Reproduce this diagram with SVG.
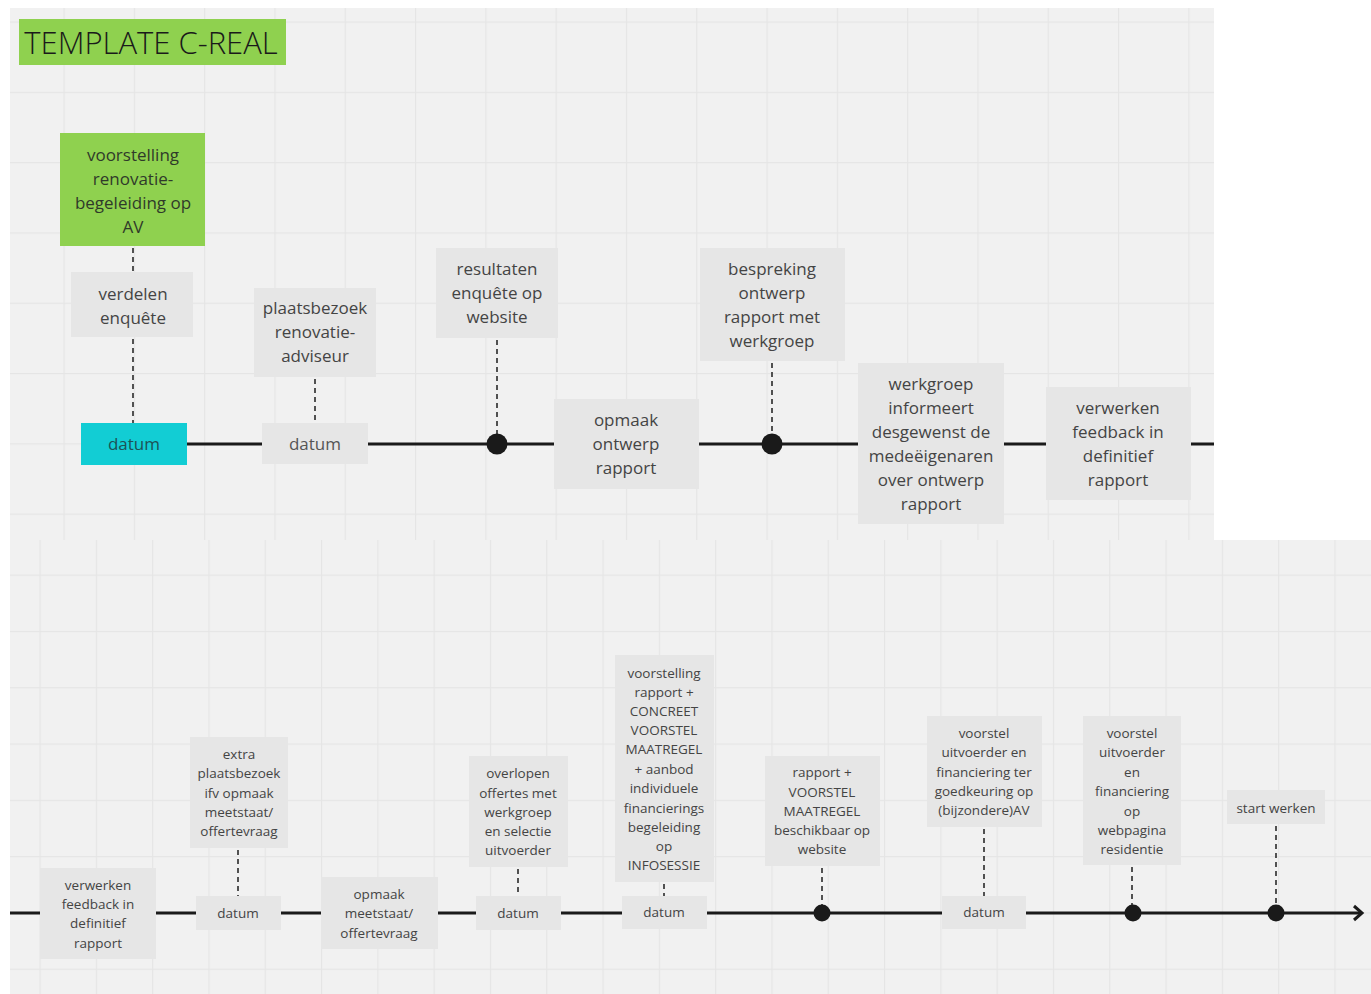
<svg xmlns="http://www.w3.org/2000/svg" width="1371" height="994" viewBox="0 0 1371 994">
<defs>
<pattern id="gTop" patternUnits="userSpaceOnUse" x="63.5" y="21.5" width="70.3" height="70.3">
<rect x="0" y="0" width="1.2" height="70.3" fill="#e5e5e5"/><rect x="0" y="0" width="70.3" height="1.2" fill="#e5e5e5"/>
</pattern>
<pattern id="gBot" patternUnits="userSpaceOnUse" x="39.5" y="743.5" width="56.3" height="56.3">
<rect x="0" y="0" width="1.2" height="56.3" fill="#e5e5e5"/><rect x="0" y="0" width="56.3" height="1.2" fill="#e5e5e5"/>
</pattern>
<marker id="arr" markerUnits="userSpaceOnUse" markerWidth="16" markerHeight="18" refX="13" refY="9" orient="auto">
<path d="M5 2 L13 9 L5 16" fill="none" stroke="#1a1a1a" stroke-width="3"/>
</marker>
</defs>
<style>
text{font-family:"Open Sans","Noto Sans","Liberation Sans",sans-serif;text-anchor:middle;dominant-baseline:central}
.b{fill:#e6e6e6}
.t{font-size:17px;fill:#444}
.s{font-size:13.5px;fill:#444}
.d{fill:none;stroke:#2a2a2a;stroke-width:1.6;stroke-dasharray:5 4}
.tl{fill:none;stroke:#1a1a1a;stroke-width:3}
.dot{fill:#1a1a1a}
</style>
<rect width="1371" height="994" fill="#ffffff"/>
<rect x="10" y="8" width="1204" height="532" fill="#f1f1f1"/>
<rect x="10" y="8" width="1204" height="532" fill="url(#gTop)"/>
<rect x="10" y="540" width="1361" height="454" fill="#f1f1f1"/>
<rect x="10" y="540" width="1361" height="454" fill="url(#gBot)"/>

<g id="connectors">
<line class="tl" x1="81" y1="444" x2="1214" y2="444"/>
<line class="tl" x1="10" y1="913" x2="1362" y2="913" marker-end="url(#arr)"/>
<line class="d" x1="133" y1="248" x2="133" y2="272"/>
<line class="d" x1="133" y1="339" x2="133" y2="423"/>
<line class="d" x1="315" y1="379" x2="315" y2="421"/>
<line class="d" x1="497" y1="340" x2="497" y2="436"/>
<line class="d" x1="772" y1="363" x2="772" y2="436"/>
<line class="d" x1="238" y1="850" x2="238" y2="896"/>
<line class="d" x1="518" y1="869" x2="518" y2="896"/>
<line class="d" x1="664" y1="884" x2="664" y2="896"/>
<line class="d" x1="822" y1="868" x2="822" y2="905"/>
<line class="d" x1="984" y1="829" x2="984" y2="896"/>
<line class="d" x1="1132" y1="867" x2="1132" y2="905"/>
<line class="d" x1="1276" y1="826" x2="1276" y2="905"/>
<circle class="dot" cx="497" cy="444" r="10.5"/>
<circle class="dot" cx="772" cy="444" r="10.5"/>
<circle class="dot" cx="822" cy="913" r="8.5"/>
<circle class="dot" cx="1133" cy="913" r="8.5"/>
<circle class="dot" cx="1276" cy="913" r="8.5"/>
</g>

<g id="title">
<rect x="19" y="19" width="267" height="46" fill="#8fd14f"/>
<text x="151" y="42" style="font-size:31px;fill:#1a1a1a;font-weight:300">TEMPLATE C-REAL</text>
</g>

<g id="n-voorstelling-av">
<rect x="60" y="133" width="145" height="113" fill="#8fd14f"/>
<text class="t" x="133" y="154" style="fill:#2f3a2a">voorstelling</text>
<text class="t" x="133" y="178" style="fill:#2f3a2a">renovatie-</text>
<text class="t" x="133" y="202" style="fill:#2f3a2a">begeleiding op</text>
<text class="t" x="133" y="226" style="fill:#2f3a2a">AV</text>
</g>
<g id="n-verdelen">
<rect class="b" x="71" y="272" width="122" height="65"/>
<text class="t" x="133" y="293">verdelen</text>
<text class="t" x="133" y="317">enquête</text>
</g>
<g id="n-datum1">
<rect x="81" y="423" width="106" height="42" fill="#12cdd4"/>
<text class="t" x="134" y="443.5" style="fill:#1d5256">datum</text>
</g>
<g id="n-plaatsbezoek">
<rect class="b" x="254" y="288" width="122" height="89"/>
<text class="t" x="315" y="307.5">plaatsbezoek</text>
<text class="t" x="315" y="331.5">renovatie-</text>
<text class="t" x="315" y="355.5">adviseur</text>
</g>
<g id="n-datum2">
<rect class="b" x="262" y="423" width="106" height="41"/>
<text class="t" x="315" y="443.5" style="fill:#555">datum</text>
</g>
<g id="n-resultaten">
<rect class="b" x="436" y="248" width="122" height="90"/>
<text class="t" x="497" y="268.5">resultaten</text>
<text class="t" x="497" y="292.5">enquête op</text>
<text class="t" x="497" y="316.5">website</text>
</g>
<g id="n-opmaak-ontwerp">
<rect class="b" x="554" y="399" width="145" height="90"/>
<text class="t" x="626" y="419.5">opmaak</text>
<text class="t" x="626" y="443.5">ontwerp</text>
<text class="t" x="626" y="467.5">rapport</text>
</g>
<g id="n-bespreking">
<rect class="b" x="700" y="248" width="145" height="113"/>
<text class="t" x="772" y="268.5">bespreking</text>
<text class="t" x="772" y="292.5">ontwerp</text>
<text class="t" x="772" y="316.5">rapport met</text>
<text class="t" x="772" y="340.5">werkgroep</text>
</g>
<g id="n-werkgroep-informeert">
<rect class="b" x="858" y="363" width="146" height="161"/>
<text class="t" x="931" y="383.5">werkgroep</text>
<text class="t" x="931" y="407.5">informeert</text>
<text class="t" x="931" y="431.5">desgewenst de</text>
<text class="t" x="931" y="455.5">medeëigenaren</text>
<text class="t" x="931" y="479.5">over ontwerp</text>
<text class="t" x="931" y="503.5">rapport</text>
</g>
<g id="n-verwerken-top">
<rect class="b" x="1046" y="387" width="145" height="113"/>
<text class="t" x="1118" y="407.5">verwerken</text>
<text class="t" x="1118" y="431.5">feedback in</text>
<text class="t" x="1118" y="455.5">definitief</text>
<text class="t" x="1118" y="479.5">rapport</text>
</g>

<g id="n-verwerken-bottom">
<rect class="b" x="40" y="868" width="116" height="91"/>
<text class="s" x="98" y="884.5">verwerken</text>
<text class="s" x="98" y="903.5">feedback in</text>
<text class="s" x="98" y="922.5">definitief</text>
<text class="s" x="98" y="942.5">rapport</text>
</g>
<g id="n-extra-plaatsbezoek">
<rect class="b" x="190" y="737" width="98" height="111"/>
<text class="s" x="239" y="753.5">extra</text>
<text class="s" x="239" y="772.5">plaatsbezoek</text>
<text class="s" x="239" y="792.5">ifv opmaak</text>
<text class="s" x="239" y="811.5">meetstaat/</text>
<text class="s" x="239" y="830.5">offertevraag</text>
</g>
<g id="n-datum3">
<rect class="b" x="196" y="896" width="85" height="34"/>
<text class="s" x="238" y="913">datum</text>
</g>
<g id="n-opmaak-meetstaat">
<rect class="b" x="321" y="877" width="117" height="72"/>
<text class="s" x="379" y="893.5">opmaak</text>
<text class="s" x="379" y="912.5">meetstaat/</text>
<text class="s" x="379" y="932.5">offertevraag</text>
</g>
<g id="n-overlopen">
<rect class="b" x="469" y="756" width="99" height="111"/>
<text class="s" x="518" y="772.5">overlopen</text>
<text class="s" x="518" y="792.5">offertes met</text>
<text class="s" x="518" y="811.5">werkgroep</text>
<text class="s" x="518" y="830.5">en selectie</text>
<text class="s" x="518" y="849.5">uitvoerder</text>
</g>
<g id="n-datum4">
<rect class="b" x="476" y="896" width="85" height="34"/>
<text class="s" x="518" y="913">datum</text>
</g>
<g id="n-infosessie">
<rect class="b" x="615" y="655" width="99" height="227"/>
<text class="s" x="664" y="672.5">voorstelling</text>
<text class="s" x="664" y="691.5">rapport +</text>
<text class="s" x="664" y="710.5">CONCREET</text>
<text class="s" x="664" y="729.5">VOORSTEL</text>
<text class="s" x="664" y="748.5">MAATREGEL</text>
<text class="s" x="664" y="768.5">+ aanbod</text>
<text class="s" x="664" y="787.5">individuele</text>
<text class="s" x="664" y="807.5">financierings</text>
<text class="s" x="664" y="826.5">begeleiding</text>
<text class="s" x="664" y="846">op</text>
<text class="s" x="664" y="864.5">INFOSESSIE</text>
</g>
<g id="n-datum5">
<rect class="b" x="622" y="896" width="85" height="33"/>
<text class="s" x="664" y="912">datum</text>
</g>
<g id="n-rapport-website">
<rect class="b" x="765" y="756" width="115" height="110"/>
<text class="s" x="822" y="771.5">rapport +</text>
<text class="s" x="822" y="791.5">VOORSTEL</text>
<text class="s" x="822" y="810.5">MAATREGEL</text>
<text class="s" x="822" y="829.5">beschikbaar op</text>
<text class="s" x="822" y="848.5">website</text>
</g>
<g id="n-voorstel-av">
<rect class="b" x="927" y="716" width="115" height="111"/>
<text class="s" x="984" y="732.5">voorstel</text>
<text class="s" x="984" y="751.5">uitvoerder en</text>
<text class="s" x="984" y="771.5">financiering ter</text>
<text class="s" x="984" y="790.5">goedkeuring op</text>
<text class="s" x="984" y="809.5">(bijzondere)AV</text>
</g>
<g id="n-datum6">
<rect class="b" x="942" y="896" width="84" height="33"/>
<text class="s" x="984" y="912">datum</text>
</g>
<g id="n-webpagina">
<rect class="b" x="1083" y="716" width="98" height="149"/>
<text class="s" x="1132" y="732.5">voorstel</text>
<text class="s" x="1132" y="751.5">uitvoerder</text>
<text class="s" x="1132" y="771.5">en</text>
<text class="s" x="1132" y="790.5">financiering</text>
<text class="s" x="1132" y="810.5">op</text>
<text class="s" x="1132" y="829.5">webpagina</text>
<text class="s" x="1132" y="848.5">residentie</text>
</g>
<g id="n-start-werken">
<rect class="b" x="1227" y="790" width="98" height="34"/>
<text class="s" x="1276" y="807.5">start werken</text>
</g>
</svg>
